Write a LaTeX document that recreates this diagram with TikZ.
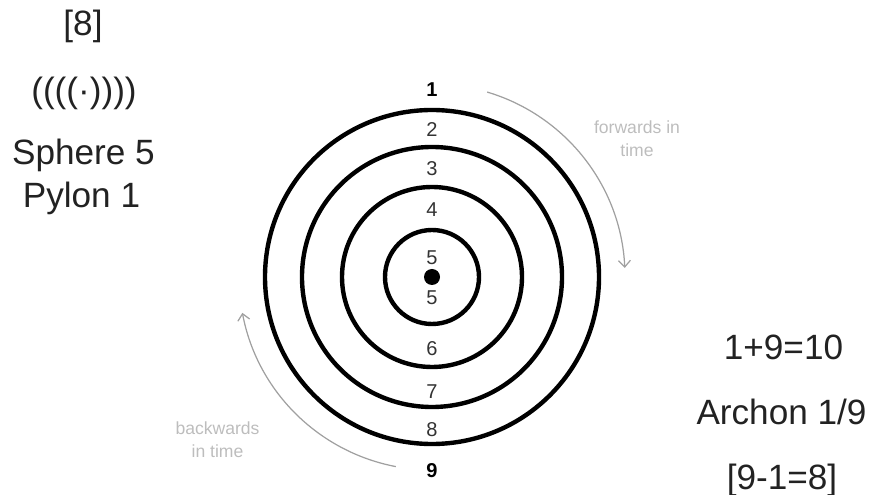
\documentclass[tikz,border=0pt]{standalone}
\usepackage{fontspec}
\setmainfont{Liberation Sans}
\usetikzlibrary{arrows.meta}

\definecolor{ringtext}{HTML}{333333}
\definecolor{bigtext}{HTML}{222222}
\definecolor{timearc}{HTML}{A0A0A0}
\definecolor{timetext}{HTML}{BDBDBD}

\begin{document}
\begin{tikzpicture}[
    ring/.style={line width=2.5pt},
    ringnum/.style={font=\fontsize{11.4}{13}\selectfont, text=ringtext, inner sep=0pt},
    endnum/.style={font=\fontsize{11.4}{13}\selectfont\bfseries, inner sep=0pt},
    bigword/.style={font=\fontsize{20}{24}\selectfont, text=bigtext, anchor=base, inner sep=0pt},
    timearrow/.style={timearc, line width=0.7pt, -{Straight Barb[length=1.3mm, width=2.4mm]}},
    timelabel/.style={font=\fontsize{10}{13}\selectfont, text=timetext, align=center}
]
    \useasboundingbox (0, 0) rectangle (17.46, 9.9);

    % The four rings round the centre
    \coordinate (centre) at (8.64, 4.36);
    \draw[ring] (centre) circle (3.34);
    \draw[ring] (centre) circle (2.60);
    \draw[ring] (centre) circle (1.80);
    \draw[ring] (centre) circle (0.94);
    \fill[black] (centre) circle (0.16);

    % Numbers from top to bottom
    \node[endnum] (n1) at (8.64, 8.10) {1};
    \node[ringnum] (n2) at (8.64, 7.30) {2};
    \node[ringnum] (n3) at (8.64, 6.53) {3};
    \node[ringnum] (n4) at (8.64, 5.70) {4};
    \node[ringnum] (n5a) at (8.64, 4.74) {5};
    \node[ringnum] (n5b) at (8.64, 3.94) {5};
    \node[ringnum] (n6) at (8.64, 2.92) {6};
    \node[ringnum] (n7) at (8.64, 2.07) {7};
    \node[ringnum] (n8) at (8.64, 1.30) {8};
    \node[endnum] (n9) at (8.64, 0.48) {9};

    % Time arrows
    \coordinate (fwd) at (9.743, 8.059);
    \coordinate (bwd) at (7.917, 0.568);
    \draw[timearrow] (fwd) arc[start angle=73.4, end angle=2.7, radius=3.86];
    \draw[timearrow] (bwd) arc[start angle=259.2, end angle=190.7, radius=3.86];
    \node[timelabel] (fwdlabel) at (12.74, 7.13) {forwards in\\time};
    \node[timelabel] (bwdlabel) at (4.35, 1.10) {backwards\\in time};

    % Left column
    \node[bigword] (eight) at (1.66, 9.18) {[8]};
    \node[bigword] (waves) at (1.68, 7.85) {((((·))))};
    \node[bigword] (sphere) at (1.67, 6.60) {Sphere 5};
    \node[bigword] (pylon) at (1.63, 5.74) {Pylon 1};

    % Right column
    \node[bigword] (sum) at (15.67, 2.70) {1+9=10};
    \node[bigword] (archon) at (15.63, 1.40) {Archon 1/9};
    \node[bigword] (diff) at (15.64, 0.10) {[9-1=8]};

\end{tikzpicture}
\end{document}
